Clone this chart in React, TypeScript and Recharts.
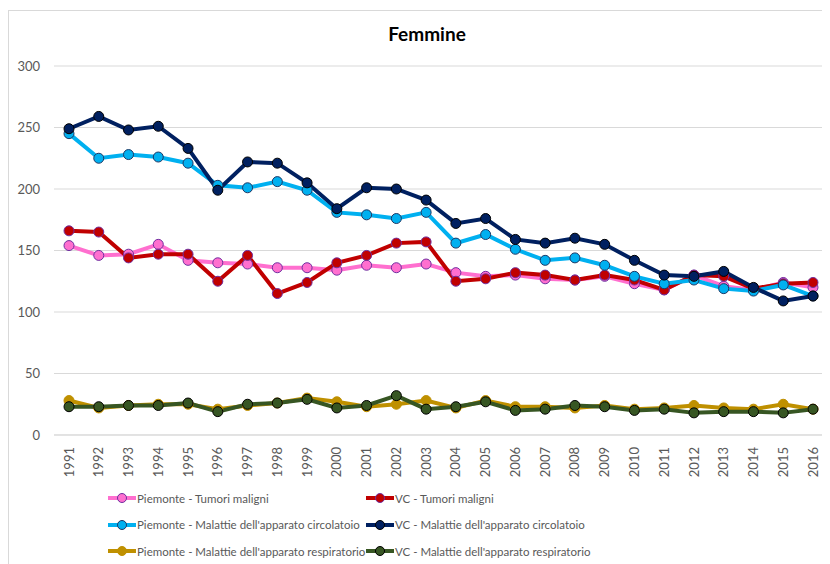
import React from 'react';
import { LineChart, Line, XAxis, YAxis, CartesianGrid } from 'recharts';

const years = [
  '1991', '1992', '1993', '1994', '1995', '1996', '1997', '1998', '1999', '2000',
  '2001', '2002', '2003', '2004', '2005', '2006', '2007', '2008', '2009', '2010',
  '2011', '2012', '2013', '2014', '2015', '2016',
];

const piemonteTumori = [154, 146, 147, 155, 142, 140, 139, 136, 136, 134, 138, 136, 139, 132, 129, 130, 127, 126, 129, 123, 118, 130, 121, 118, 124, 120];
const vcTumori = [166, 165, 144, 147, 147, 125, 146, 115, 124, 140, 146, 156, 157, 125, 127, 132, 130, 126, 130, 126, 118, 130, 129, 119, 123, 124];
const piemonteCirc = [245, 225, 228, 226, 221, 203, 201, 206, 199, 181, 179, 176, 181, 156, 163, 151, 142, 144, 138, 129, 123, 126, 119, 117, 122, 113];
const vcCirc = [249, 259, 248, 251, 233, 199, 222, 221, 205, 184, 201, 200, 191, 172, 176, 159, 156, 160, 155, 142, 130, 129, 133, 120, 109, 113];
const piemonteResp = [28, 22, 24, 25, 25, 21, 24, 26, 30, 27, 23, 25, 28, 22, 28, 23, 23, 22, 24, 21, 22, 24, 22, 21, 25, 21];
const vcResp = [23, 23, 24, 24, 26, 19, 25, 26, 29, 22, 24, 32, 21, 23, 27, 20, 21, 24, 23, 20, 21, 18, 19, 19, 18, 21];

const yTicks = [0, 50, 100, 150, 200, 250, 300];

const series = [
  { key: 'pt', name: 'Piemonte - Tumori maligni', values: piemonteTumori, color: '#FF6FCF', dotStroke: '#7030A0' },
  { key: 'vt', name: 'VC - Tumori maligni', values: vcTumori, color: '#C00000', dotStroke: '#7030A0' },
  { key: 'pc', name: "Piemonte - Malattie dell'apparato circolatoio", values: piemonteCirc, color: '#00B0F0', dotStroke: '#1F3864' },
  { key: 'vc', name: "VC - Malattie dell'apparato circolatoio", values: vcCirc, color: '#002060', dotStroke: '#000000' },
  { key: 'pr', name: "Piemonte - Malattie dell'apparato respiratorio", values: piemonteResp, color: '#BF9000', dotStroke: '#BF9000' },
  { key: 'vr', name: "VC - Malattie dell'apparato respiratorio", values: vcResp, color: '#375623', dotStroke: '#000000' },
];

const data = years.map((year, i) => {
  const row: Record<string, string | number> = { year };
  series.forEach((s) => {
    row[s.key] = s.values[i];
  });
  return row;
});

const FONT = 'Lato, "Liberation Sans", sans-serif';

const YearTick = ({ x, y, payload }: any) => (
  <text
    x={x}
    y={y + 4}
    transform={`rotate(-90, ${x}, ${y + 4})`}
    textAnchor="end"
    dy="0.35em"
    fill="#595959"
    fontSize={13}
    fontFamily={FONT}
  >
    {payload.value}
  </text>
);

const LegendItem = ({ s }: { s: (typeof series)[number] }) => (
  <div style={{ display: 'flex', alignItems: 'center', height: 16 }}>
    <svg width={29} height={12} style={{ flexShrink: 0 }}>
      <line x1={0} y1={6} x2={28} y2={6} stroke={s.color} strokeWidth={4} />
      <circle cx={14} cy={6} r={4.5} fill={s.color} stroke={s.dotStroke} strokeWidth={1} />
    </svg>
    <span style={{ fontFamily: FONT, fontSize: 11.5, color: '#595959', whiteSpace: 'nowrap' }}>{s.name}</span>
  </div>
);

export default function App() {
  return (
    <div style={{ position: 'relative', width: 822, height: 556, fontFamily: FONT }}>
      <div
        style={{
          position: 'absolute',
          left: 0,
          top: 2,
          width: 830,
          height: 560,
          borderTop: '1px solid #d9d9d9',
          borderLeft: '1px solid #d9d9d9',
        }}
      />
      <div
        style={{
          position: 'absolute',
          top: 14,
          left: 0,
          width: 838,
          textAlign: 'center',
          fontWeight: 'bold',
          fontSize: 19,
          color: '#000',
        }}
      >
        Femmine
      </div>
      <LineChart
        width={822}
        height={556}
        data={data}
        margin={{ top: 58, right: 2, bottom: 79, left: 0 }}
      >
        <CartesianGrid vertical={false} stroke="#d9d9d9" strokeWidth={1} />
        <XAxis
          dataKey="year"
          interval={0}
          height={50}
          padding={{ left: 15, right: 15 }}
          axisLine={{ stroke: '#d9d9d9' }}
          tickLine={false}
          tick={<YearTick />}
        />
        <YAxis
          domain={[0, 300]}
          ticks={yTicks}
          width={46}
          axisLine={false}
          tickLine={false}
          tickSize={6}
          tickMargin={8}
          tick={{ fill: '#595959', fontSize: 13, fontFamily: FONT }}
        />
        {series.map((s) => (
          <Line
            key={s.key}
            dataKey={s.key}
            name={s.name}
            type="linear"
            stroke={s.color}
            strokeWidth={4}
            dot={{ r: 5, fill: s.color, stroke: s.dotStroke, strokeWidth: 1 }}
            activeDot={false}
            isAnimationActive={false}
          />
        ))}
      </LineChart>
      <div style={{ position: 'absolute', left: 100, top: 482, display: 'grid', gridTemplateColumns: '258px auto', rowGap: 10.5 }}>
        {series.map((s) => (
          <LegendItem key={s.key} s={s} />
        ))}
      </div>
    </div>
  );
}
